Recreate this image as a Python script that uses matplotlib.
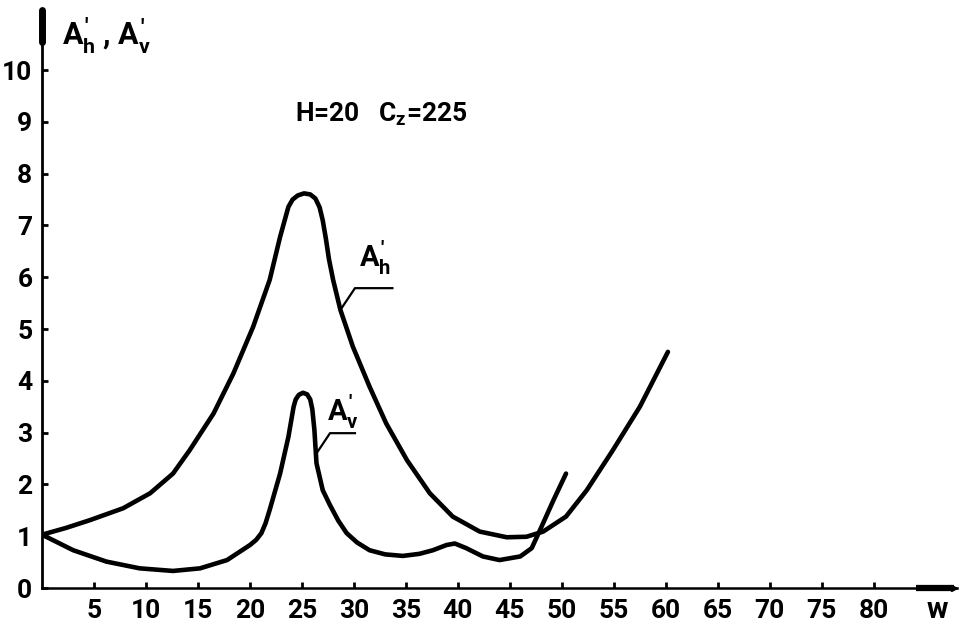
import matplotlib
matplotlib.use("Agg")
import matplotlib.pyplot as plt

# frequency w against amplitude A'
w_h = [0.0, 2.3, 4.6, 7.8, 10.4, 12.6, 14.2, 16.5, 18.4, 20.3, 21.9, 22.9,
       23.7, 24.1, 24.6, 25.2, 25.8, 26.3, 26.7, 27.0, 27.3, 27.6, 28.0,
       28.7, 29.9, 31.5, 33.1, 35.1, 37.3, 39.5, 42.1, 44.7, 46.6, 48.2,
       50.4, 52.4, 54.9, 57.5, 60.2]
a_h = [1.03, 1.16, 1.31, 1.54, 1.83, 2.21, 2.66, 3.37, 4.14, 5.04, 5.95, 6.78,
       7.36, 7.50, 7.58, 7.62, 7.60, 7.52, 7.35, 7.10, 6.75, 6.35, 5.95,
       5.37, 4.66, 3.89, 3.18, 2.47, 1.83, 1.38, 1.09, 0.98, 0.99, 1.09,
       1.38, 1.89, 2.66, 3.50, 4.56]

w_v = [0.0, 3.0, 6.2, 9.4, 12.6, 15.2, 17.8, 20.0, 20.6, 21.1, 21.5, 21.9,
       22.9, 23.7, 24.2, 24.4, 24.7, 25.1, 25.5, 25.8, 26.0, 26.2, 26.4,
       27.0, 27.7, 28.5, 29.3, 30.3, 31.5, 33.0, 34.7, 36.3, 37.6, 38.9,
       39.7, 40.8, 42.4, 44.0, 46.0, 47.1, 47.9, 49.2, 50.4]
a_v = [1.03, 0.73, 0.51, 0.38, 0.33, 0.38, 0.54, 0.83, 0.93, 1.06, 1.25, 1.51,
       2.21, 2.92, 3.50, 3.64, 3.73, 3.77, 3.74, 3.64, 3.45, 3.05, 2.41,
       1.89, 1.60, 1.30, 1.06, 0.88, 0.73, 0.65, 0.62, 0.66, 0.73, 0.83,
       0.86, 0.77, 0.61, 0.54, 0.61, 0.77, 1.12, 1.70, 2.21]

x_ticks = [5, 10, 15, 20, 25, 30, 35, 40, 45, 50, 55, 60, 65, 70, 75, 80]
y_ticks = list(range(0, 11))

FONT = ["Roboto", "DejaVu Sans"]
plt.rcParams["font.family"] = FONT
plt.rcParams["font.weight"] = "bold"
plt.rcParams["mathtext.fontset"] = "custom"
plt.rcParams["mathtext.rm"] = "Roboto:bold"
plt.rcParams["mathtext.it"] = "Roboto:bold"
plt.rcParams["mathtext.bf"] = "Roboto:bold"

fig = plt.figure(figsize=(9.61, 6.31), dpi=100)
ax = fig.add_axes([0.0437, 0.0681, 0.9521, 0.916])

for xs, ys in ((w_h, a_h), (w_v, a_v)):
    ax.plot(xs, ys, color="black", lw=3.3, solid_capstyle="round",
            solid_joinstyle="round")

ax.set_xlim(0, 88)
ax.set_ylim(0, 11.16)
for side in ("top", "right"):
    ax.spines[side].set_visible(False)
ax.spines["left"].set_linewidth(2.0)
ax.spines["bottom"].set_linewidth(1.8)

ax.set_xticks(x_ticks)
ax.set_yticks(y_ticks)
ax.tick_params(axis="both", direction="in", length=4, width=2,
               labelsize=19)
ax.tick_params(axis="x", pad=8)
ax.tick_params(axis="y", pad=7)

# thick arrow ends of the hand-drawn axes
ax.plot([0, 0], [0.945, 1.0], transform=ax.transAxes, color="black",
        lw=5, clip_on=False, solid_capstyle="round")
ax.plot([0.955, 0.997], [0, 0], transform=ax.transAxes, color="black",
        lw=4.5, clip_on=False, solid_capstyle="butt")
ax.plot([0.997], [0], transform=ax.transAxes, marker=">", ms=5,
        color="black", clip_on=False)

# labels
ax.text(1.9, 10.68, r"$A_h^{\prime}$ , $A_v^{\prime}$", fontsize=22,
        ha="left", va="center")
ax.text(32.6, 9.15, r"H=20   $C_z$=225", fontsize=19, ha="center",
        va="center")
ax.text(86.1, -0.42, "w", fontsize=21, ha="center", va="center",
        clip_on=False)

# leader lines with curve names
ax.plot([28.7, 30.1, 33.7], [5.37, 5.79, 5.79], color="black", lw=1.6)
ax.text(32.0, 6.38, r"$A_h^{\prime}$", fontsize=21, ha="center",
        va="center")
ax.plot([26.4, 27.7, 30.1], [2.6, 2.99, 2.99], color="black", lw=1.6)
ax.text(28.9, 3.4, r"$A_v^{\prime}$", fontsize=21, ha="center",
        va="center")

fig.savefig("out.png", dpi=100, facecolor="white")
